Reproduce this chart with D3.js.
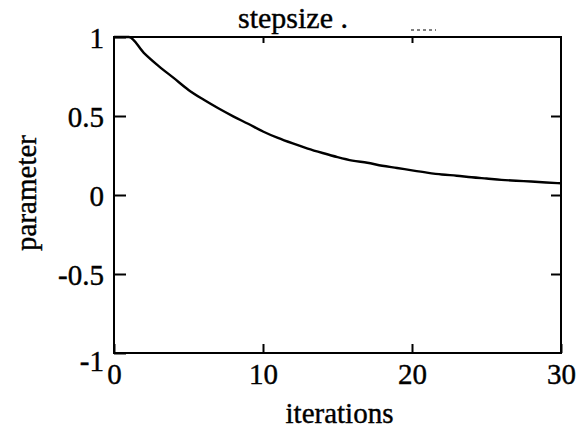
<!DOCTYPE html>
<html>
<head>
<meta charset="utf-8">
<script src="https://cdn.jsdelivr.net/npm/d3@7"></script>
<style>
  body { margin: 0; background: #fff; }
  svg text { font-family: "Liberation Serif", "Times New Roman", serif; fill: #000; stroke: #000; stroke-width: 0.4px; }
</style>
</head>
<body>
<div id="chart"></div>
<script>
// step size per iteration
var iterations = [0, 1, 2, 3, 4, 5, 6, 7, 8, 9, 10, 11, 12, 13, 14, 15,
                  16, 17, 18, 19, 20, 21, 22, 23, 24, 25, 26, 27, 28, 29, 30];
var stepsize = [1.0, 1.0, 0.90, 0.816, 0.741, 0.665, 0.604, 0.549, 0.498, 0.451, 0.402,
                0.361, 0.326, 0.294, 0.266, 0.240, 0.218, 0.204, 0.185, 0.171, 0.156,
                0.142, 0.130, 0.122, 0.112, 0.104, 0.096, 0.090, 0.085, 0.079, 0.074];
var xTicks = [0, 10, 20, 30];
var yTicks = [-1, -0.5, 0, 0.5, 1];

var width = 586, height = 433;
var margin = {top: 37, right: 25, bottom: 80, left: 114};

var svg = d3.select("#chart").append("svg")
    .attr("width", width)
    .attr("height", height);

var x = d3.scaleLinear().domain([0, 30]).range([margin.left, width - margin.right]);
var y = d3.scaleLinear().domain([-1, 1]).range([height - margin.bottom, margin.top]);

// plain hyphen for negatives
var fmt = function(d) { return String(d); };

// left axis: ticks point into the box
var leftAx = svg.append("g")
    .attr("transform", "translate(" + margin.left + ",0)")
    .call(d3.axisLeft(y).tickValues(yTicks).tickSizeInner(-12).tickSizeOuter(0).tickPadding(10).tickFormat(fmt));
leftAx.selectAll("text").attr("font-size", 29).attr("dy", "0.36em");
leftAx.select(".domain").remove();
leftAx.selectAll("line").attr("stroke-width", 2);
leftAx.selectAll(".tick").filter(d => d === -1).select("text").attr("dy", "0.62em");

// right side ticks
var rightAx = svg.append("g")
    .attr("transform", "translate(" + (width - margin.right) + ",0)")
    .call(d3.axisRight(y).tickValues([-0.5, 0, 0.5]).tickSizeInner(-10).tickSizeOuter(0).tickFormat(""));
rightAx.select(".domain").remove();
rightAx.selectAll("line").attr("stroke-width", 2);

// bottom axis
var bottomAx = svg.append("g")
    .attr("transform", "translate(0," + (height - margin.bottom) + ")")
    .call(d3.axisBottom(x).tickValues(xTicks).tickSizeInner(-9).tickSizeOuter(0).tickPadding(10).tickFormat(fmt));
bottomAx.selectAll("text").attr("font-size", 29).attr("dy", "0.71em");
bottomAx.select(".domain").remove();
bottomAx.selectAll("line").attr("stroke-width", 2);

// top ticks
var topAx = svg.append("g")
    .attr("transform", "translate(0," + margin.top + ")")
    .call(d3.axisTop(x).tickValues([10, 20]).tickSizeInner(-6).tickSizeOuter(0).tickFormat(""));
topAx.select(".domain").remove();
topAx.selectAll("line").attr("stroke-width", 2);

// frame
svg.append("rect")
    .attr("x", x(0)).attr("y", y(1))
    .attr("width", x(30) - x(0)).attr("height", y(-1) - y(1))
    .attr("fill", "none").attr("stroke", "#000").attr("stroke-width", 2);

// curve
var line = d3.line()
    .x((d, i) => x(iterations[i]))
    .y(d => y(d))
    .curve(d3.curveMonotoneX);

svg.append("path")
    .datum(stepsize)
    .attr("d", line)
    .attr("fill", "none")
    .attr("stroke", "#000")
    .attr("stroke-width", 2.4);

// title with line sample
svg.append("text")
    .attr("x", 238).attr("y", 28)
    .attr("font-size", 30)
    .text("stepsize .");
svg.append("line")
    .attr("x1", 411).attr("x2", 436)
    .attr("y1", 30).attr("y2", 30)
    .attr("stroke", "#000").attr("stroke-width", 1)
    .attr("stroke-dasharray", "3,3");

// axis titles
svg.append("text")
    .attr("x", (x(0) + x(30)) / 2 + 2).attr("y", 423)
    .attr("text-anchor", "middle")
    .attr("font-size", 29)
    .text("iterations");

svg.append("text")
    .attr("transform", "translate(36,193) rotate(-90)")
    .attr("text-anchor", "middle")
    .attr("font-size", 29)
    .text("parameter");
</script>
</body>
</html>
